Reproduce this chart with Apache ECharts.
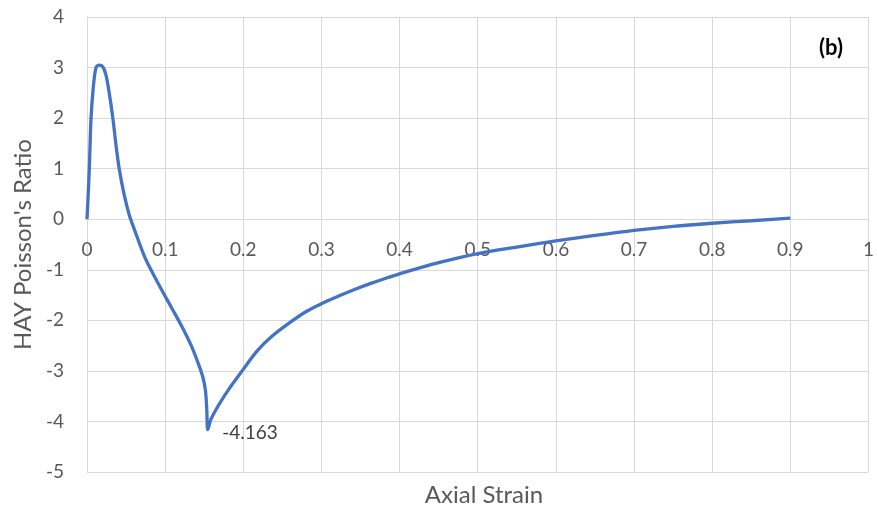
<!DOCTYPE html>
<html>
<head>
<meta charset="utf-8">
<script src="https://cdn.jsdelivr.net/npm/echarts@6/dist/echarts.min.js"></script>
<style>
html,body{margin:0;padding:0;background:#fff;}
#chart{width:877px;height:509px;}
</style>
</head>
<body>
<div id="chart"></div>
<script>
// Axial strain (x) values
var strain = [0, 0.003, 0.005, 0.008, 0.0115, 0.0157, 0.020, 0.024, 0.028, 0.033, 0.037, 0.041, 0.0475, 0.054, 0.061, 0.0739, 0.0845, 0.097, 0.110, 0.1227, 0.1334, 0.1418, 0.1482, 0.1516, 0.1533, 0.1545, 0.1588, 0.1695, 0.182, 0.199, 0.218, 0.237, 0.259, 0.280, 0.300, 0.322, 0.344, 0.365, 0.386, 0.400, 0.450, 0.500, 0.550, 0.600, 0.650, 0.700, 0.750, 0.800, 0.850, 0.900];
// HAY Poisson's ratio values
var ratio = [0, 1.0, 1.95, 2.6, 3.0, 3.05, 3.02, 2.87, 2.54, 2.01, 1.48, 1.02, 0.49, 0.09, -0.22, -0.75, -1.08, -1.44, -1.80, -2.16, -2.50, -2.83, -3.12, -3.39, -3.78, -4.163, -3.95, -3.65, -3.35, -2.99, -2.6, -2.31, -2.05, -1.83, -1.67, -1.52, -1.38, -1.26, -1.15, -1.08, -0.86, -0.68, -0.55, -0.43, -0.32, -0.22, -0.14, -0.08, -0.03, 0.02];
var xTicks = {min: 0, max: 1, interval: 0.1};
var yTicks = {min: -5, max: 4, interval: 1};

var FONT = 'Lato, "Open Sans", sans-serif';
var data = strain.map(function (x, i) { return [x, ratio[i]]; });

// grid geometry (layout only)
var GRID = {left: 87, right: 5, top: 17, bottom: 37};
var plotH = 509 - GRID.top - GRID.bottom;
var zeroFromBottom = plotH * (0 - yTicks.min) / (yTicks.max - yTicks.min);

var chart = echarts.init(document.getElementById('chart'), null, {renderer: 'canvas'});
chart.setOption({
  animation: false,
  backgroundColor: '#ffffff',
  grid: {left: GRID.left, right: GRID.right, top: GRID.top, bottom: GRID.bottom, containLabel: false},
  title: [{
    text: 'Axial Strain', left: 479, top: 478, textAlign: 'center',
    textStyle: {color: '#595959', fontSize: 24, fontWeight: 'normal', fontFamily: FONT}
  }],
  graphic: [{
    type: 'text', x: 831, y: 48,
    style: {text: '(b)', fill: '#000000', font: 'bold 22px ' + FONT, align: 'center', verticalAlign: 'middle'}
  }],
  xAxis: {
    type: 'value', min: xTicks.min, max: xTicks.max, interval: xTicks.interval,
    offset: -zeroFromBottom,
    axisLine: {show: true, onZero: false, lineStyle: {color: '#d9d9d9', width: 1}},
    axisTick: {show: false},
    splitLine: {show: true, lineStyle: {color: '#d9d9d9', width: 1}},
    axisLabel: {
      color: '#595959', fontSize: 19, fontFamily: FONT, margin: 21,
      formatter: function (v) { return String(Math.round(v * 10) / 10); }
    }
  },
  yAxis: {
    type: 'value', min: yTicks.min, max: yTicks.max, interval: yTicks.interval,
    name: "HAY Poisson's Ratio", nameLocation: 'middle', nameGap: 50,
    nameTextStyle: {color: '#595959', fontSize: 24, fontFamily: FONT},
    axisLine: {show: true, onZero: false, lineStyle: {color: '#d9d9d9', width: 1}},
    axisTick: {show: false},
    splitLine: {show: true, lineStyle: {color: '#d9d9d9', width: 1}},
    axisLabel: {color: '#595959', fontSize: 19, fontFamily: FONT, margin: 23}
  },
  series: [{
    type: 'line', data: data, showSymbol: false, smooth: 0.3,
    lineStyle: {color: '#4472C4', width: 3.3},
    itemStyle: {color: '#4472C4'},
    markPoint: {
      symbol: 'circle', symbolSize: 1,
      itemStyle: {color: 'rgba(0,0,0,0)'},
      label: {
        show: true, position: 'right', distance: 5, offset: [9, 3],
        formatter: function (p) { return String(Array.isArray(p.value) ? p.value[1] : p.value); },
        color: '#404040', fontSize: 19, fontFamily: FONT
      },
      data: [{type: 'min', valueDim: 'y'}]
    }
  }]
});
</script>
</body>
</html>
